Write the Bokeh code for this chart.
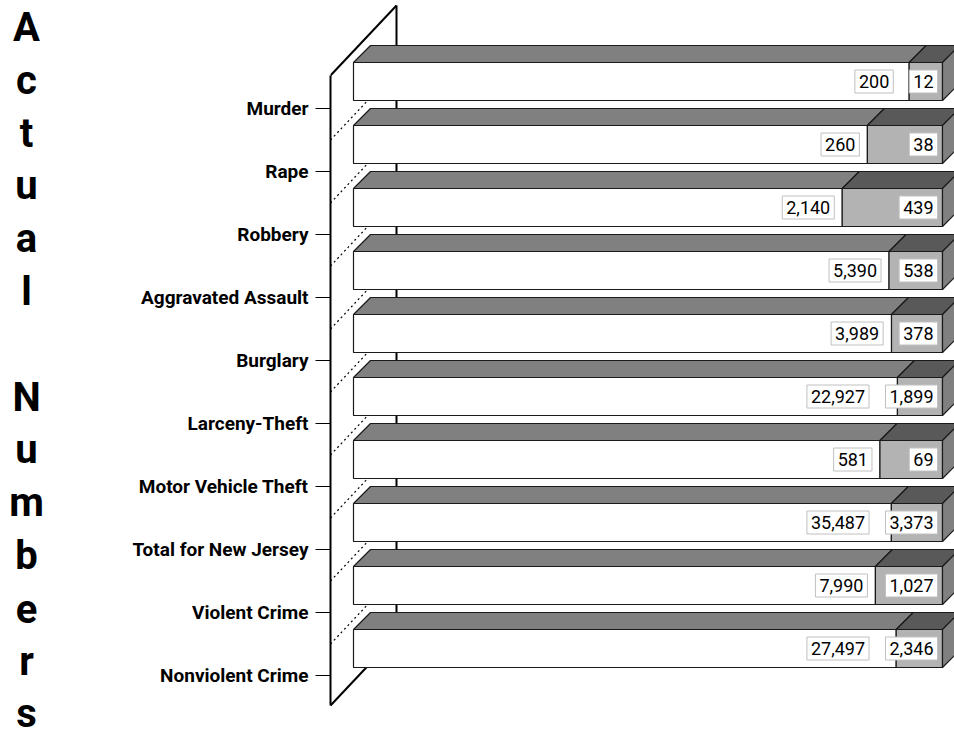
from bokeh.plotting import figure
from bokeh.models import Range1d, FixedTicker
from bokeh.layouts import row
from bokeh.core.properties import value
from bokeh.embed import file_html
from bokeh.resources import INLINE

# ---------------- data ----------------
categories = ["Murder", "Rape", "Robbery", "Aggravated Assault", "Burglary",
              "Larceny-Theft", "Motor Vehicle Theft", "Total for New Jersey",
              "Violent Crime", "Nonviolent Crime"]
first_counts = [200, 260, 2140, 5390, 3989, 22927, 581, 35487, 7990, 27497]
second_counts = [12, 38, 439, 538, 378, 1899, 69, 3373, 1027, 2346]
axis_title = "Actual Numbers"

# ---------------- derived ----------------
N = len(categories)
ypos = [N - 1 - i for i in range(N)]
totals = [a + b for a, b in zip(first_counts, second_counts)]
split = [100.0 * a / t for a, t in zip(first_counts, totals)]

FONT = "Roboto"

# geometry (style constants)
W, H = 954, 744
W_LEFT = 60
W_MAIN = W - W_LEFT
BORDER_L = 330 - W_LEFT
PX = 5.89                    # px per percent
PY = 63.0                    # px per category row
X0 = -23 / PX
X1 = X0 + (W_MAIN - BORDER_L) / PX
Y1 = (N - 1) + 108 / PY
Y0 = Y1 - H / PY

BAR_LO, BAR_HI = 0.127, 0.730        # bar front relative to tick
DDX, DDY = 17 / PX, 17 / PY          # bar depth
WDX, WDY = 66 / PX, 70 / PY          # wall depth
WALL_TOP, WALL_BOT = (N - 1) + 0.524, -0.476

yr = Range1d(Y0, Y1)

p = figure(width=W_MAIN, height=H, x_range=Range1d(X0, X1), y_range=yr,
           output_backend="svg", toolbar_location=None,
           min_border_left=BORDER_L, min_border_right=0, min_border_top=0,
           min_border_bottom=0, x_axis_location=None, outline_line_color=None)
p.grid.visible = False

# side wall
p.segment(x0=[X0 + WDX, X0, X0], y0=[WALL_BOT + WDY, WALL_TOP, WALL_BOT],
          x1=[X0 + WDX, X0 + WDX, X0 + WDX],
          y1=[WALL_TOP + WDY, WALL_TOP + WDY, WALL_BOT + WDY],
          line_color="black", line_width=2)
# dotted gridlines on the wall
gy = [k + 0.5 for k in range(N - 1)]
p.segment(x0=[X0] * len(gy), y0=gy, x1=[X0 + WDX] * len(gy), y1=[g + WDY for g in gy],
          line_color="black", line_width=1.2, line_dash="2 3")

# bars
xs, ys, cols = [], [], []
for y, c in zip(ypos, split):
    lo, hi = y + BAR_LO, y + BAR_HI
    xs += [[0, c, c, 0], [c, 100, 100, c],
           [0, c, c + DDX, DDX], [c, 100, 100 + DDX, c + DDX],
           [100, 100 + DDX, 100 + DDX, 100]]
    ys += [[lo, lo, hi, hi], [lo, lo, hi, hi],
           [hi, hi, hi + DDY, hi + DDY], [hi, hi, hi + DDY, hi + DDY],
           [lo, lo + DDY, hi + DDY, hi]]
    cols += ["white", "#b3b3b3", "#808080", "#595959", "#808080"]
p.patches(xs, ys, fill_color=cols, line_color="#1a1a1a", line_width=1.2)

# value labels
LBL_SIZE = 18

def fmt(v):
    return f"{v:,}"

def text_w(s, size=LBL_SIZE):
    return sum((0.22 if ch == "," else 0.5625) * size for ch in s)

lab1 = [fmt(v) for v in first_counts]
lab2 = [fmt(v) for v in second_counts]
centers = [y + (BAR_LO + BAR_HI) / 2 for y in ypos]
PADX, PADY = 4, 5
off2 = [-(PADX + 1)] * N
off1 = []
for c, s2 in zip(split, lab2):
    bnd = c * PX
    right_edge = 100 * PX - 1
    box2_left = right_edge - (text_w(s2) + 2 * PADX)
    box1_right = min(bnd - 4, box2_left - 16)
    off1.append(box1_right - PADX - bnd)

for xv, txt, off in ((split, lab1, off1), ([100] * N, lab2, off2)):
    p.text(x=xv, y=centers, text=txt, x_offset=off, text_align="right",
           text_baseline="middle", text_font=value(FONT),
           text_font_size=f"{LBL_SIZE}px", text_color="black",
           background_fill_color="white", border_line_color="#c0c0c0",
           border_line_width=1,
           padding=dict(left=PADX, right=PADX, top=PADY, bottom=PADY))

# category axis
ax = p.yaxis[0]
ax.ticker = FixedTicker(ticks=ypos)
ax.major_label_overrides = {y: c for y, c in zip(ypos, categories)}
ax.bounds = (WALL_BOT, WALL_TOP)
ax.axis_line_width = 2
ax.axis_line_color = "black"
ax.major_tick_out = 15
ax.major_tick_in = 0
ax.major_tick_line_width = 1
ax.minor_tick_line_color = None
ax.major_label_standoff = 7
ax.major_label_text_font = FONT
ax.major_label_text_font_style = "bold"
ax.major_label_text_font_size = "19px"
ax.major_label_text_color = "black"

# stacked-letter axis title in its own narrow panel
t = figure(width=W_LEFT, height=H, x_range=Range1d(0, W_LEFT), y_range=yr,
           output_backend="svg", toolbar_location=None,
           min_border_left=0, min_border_right=0, min_border_top=0,
           min_border_bottom=0, x_axis_location=None, y_axis_location=None,
           outline_line_color=None)
t.grid.visible = False
letters, lx, ly = [], [], []
for j, ch in enumerate(axis_title):
    if ch == " ":
        continue
    base = 27 + 52.8 * j
    letters.append(ch)
    lx.append(26)
    ly.append((N - 1) + (108 - base) / PY)
t.text(x=lx, y=ly, text=letters, text_align="center", text_baseline="alphabetic",
       text_font=value(FONT), text_font_style="bold", text_font_size="40px",
       text_color="black")

layout = row(t, p)
open("out.html", "w").write(file_html(layout, INLINE))
